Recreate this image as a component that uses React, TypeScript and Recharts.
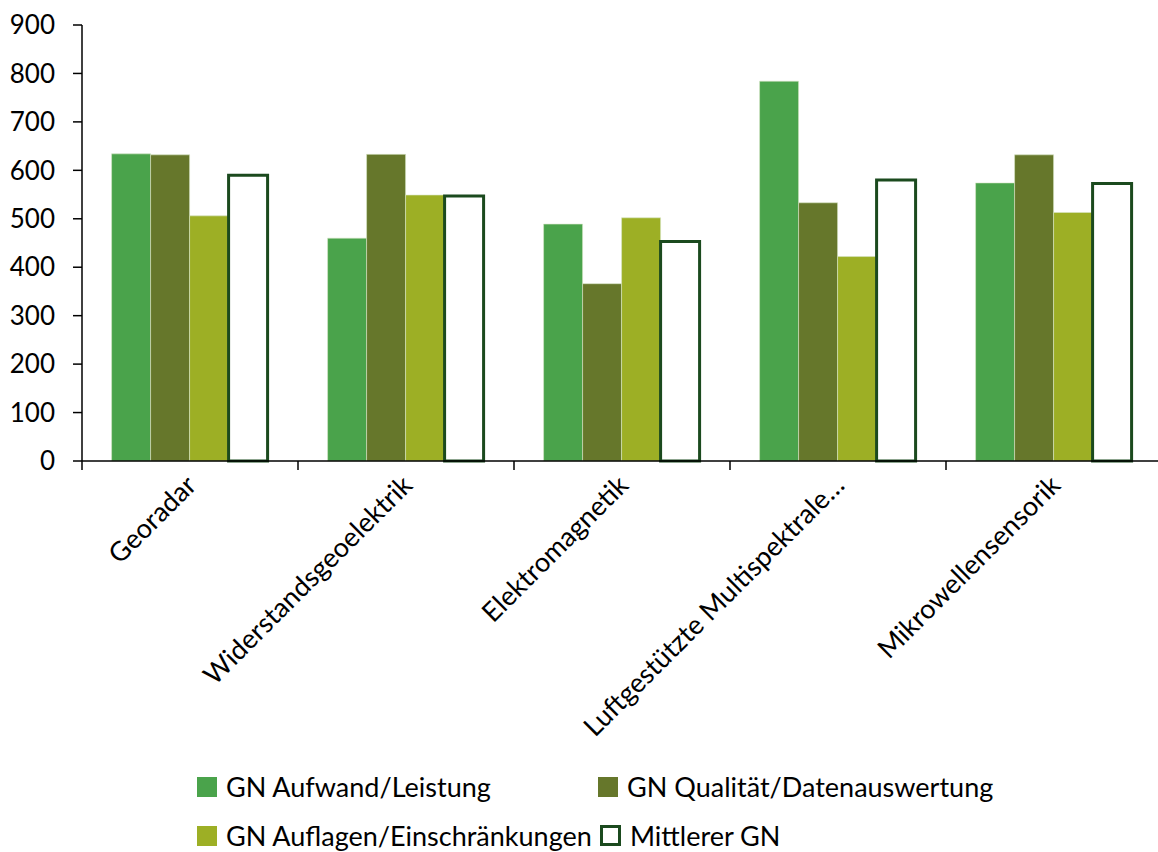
import React from "react";
import { BarChart, Bar, XAxis, YAxis, Legend } from "recharts";

const categories = ["Georadar", "Widerstandsgeoelektrik", "Elektromagnetik", "Luftgestützte Multispektrale…", "Mikrowellensensorik"];
const aufwand = [634, 460, 489, 784, 574];
const qualitaet = [632, 633, 366, 533, 632];
const auflagen = [506, 549, 502, 422, 513];
const mittlerer = [590, 547, 453, 580, 573];
const yTicks = [0, 100, 200, 300, 400, 500, 600, 700, 800, 900];

const FONT = "Lato, 'Open Sans', sans-serif";

const series = [
  { key: "aufwand", name: "GN Aufwand/Leistung", fill: "#4aa34b" },
  { key: "qualitaet", name: "GN Qualität/Datenauswertung", fill: "#66772b" },
  { key: "auflagen", name: "GN Auflagen/Einschränkungen", fill: "#9daf25" },
  { key: "mittlerer", name: "Mittlerer GN", fill: "#ffffff", stroke: "#1b4a1e" },
];

const data = categories.map((name, i) => ({
  name,
  aufwand: aufwand[i],
  qualitaet: qualitaet[i],
  auflagen: auflagen[i],
  mittlerer: mittlerer[i],
}));

// rotated category label plus tick marks on the category borders (Excel style)
const CategoryTick = (props: any) => {
  const { x, y, payload, index } = props;
  const half = payload?.offset ?? 108;
  const last = index === categories.length - 1;
  return (
    <g>
      <line x1={x - half} y1={y - 8} x2={x - half} y2={y + 1} stroke="#000" strokeWidth={1.5} />
      {last && <line x1={x + half} y1={y - 8} x2={x + half} y2={y + 1} stroke="#000" strokeWidth={1.5} />}
      <text
        x={x + 8}
        y={y + 18}
        transform={`rotate(-45, ${x + 8}, ${y + 18})`}
        textAnchor="end"
        fontFamily={FONT}
        fontSize={27}
        fill="#000"
      >
        {payload.value}
      </text>
    </g>
  );
};

const LegendBox = () => (
  <div
    style={{
      height: 91,
      width: 1158,
      position: "relative",
      fontFamily: FONT,
      fontSize: 27,
      color: "#000",
    }}
  >
    {series.map((s, i) => {
      const col = i % 2;
      const row = Math.floor(i / 2);
      return (
        <div
          key={s.key}
          style={{
            position: "absolute",
            left: col === 0 ? 197 : row === 0 ? 598 : 600,
            top: row === 0 ? 9 : 58,
            display: "flex",
            alignItems: "center",
            whiteSpace: "nowrap",
          }}
        >
          <span
            style={{
              display: "inline-block",
              width: s.stroke ? 15 : 20,
              height: s.stroke ? 15 : 20,
              background: s.fill,
              border: s.stroke ? `3px solid ${s.stroke}` : "none",
              marginRight: 9,
            }}
          />
          <span>{s.name}</span>
        </div>
      );
    })}
  </div>
);

export default function App() {
  return (
    <div style={{ position: "absolute", left: 0, top: 0, background: "#fff" }}>
      <BarChart
        width={1158}
        height={852}
        data={data}
        margin={{ top: 25, right: -4, bottom: 0, left: 0 }}
        barCategoryGap="13.7%"
        barGap={0}
      >
        <XAxis
          dataKey="name"
          height={300}
          interval={0}
          tickLine={false}
          axisLine={{ stroke: "#000", strokeWidth: 1.5 }}
          tick={<CategoryTick />}
        />
        <YAxis
          domain={[0, 900]}
          ticks={yTicks}
          width={82}
          interval={0}
          tickSize={9}
          tickMargin={18}
          axisLine={{ stroke: "#000", strokeWidth: 1.5 }}
          tickLine={{ stroke: "#000", strokeWidth: 1.5 }}
          tick={{ fill: "#000", fontSize: 26, fontFamily: FONT }}
        />
        <Legend
          verticalAlign="bottom"
          height={91}
          content={<LegendBox />}
          wrapperStyle={{ left: 0, bottom: 0, width: 1158, height: 91 }}
        />
        {series.map((s) => (
          <Bar
            key={s.key}
            dataKey={s.key}
            name={s.name}
            fill={s.fill}
            stroke={s.stroke ?? "#d8e6c8"}
            strokeWidth={s.stroke ? 3 : 0.6}
            isAnimationActive={false}
          />
        ))}
      </BarChart>
    </div>
  );
}
